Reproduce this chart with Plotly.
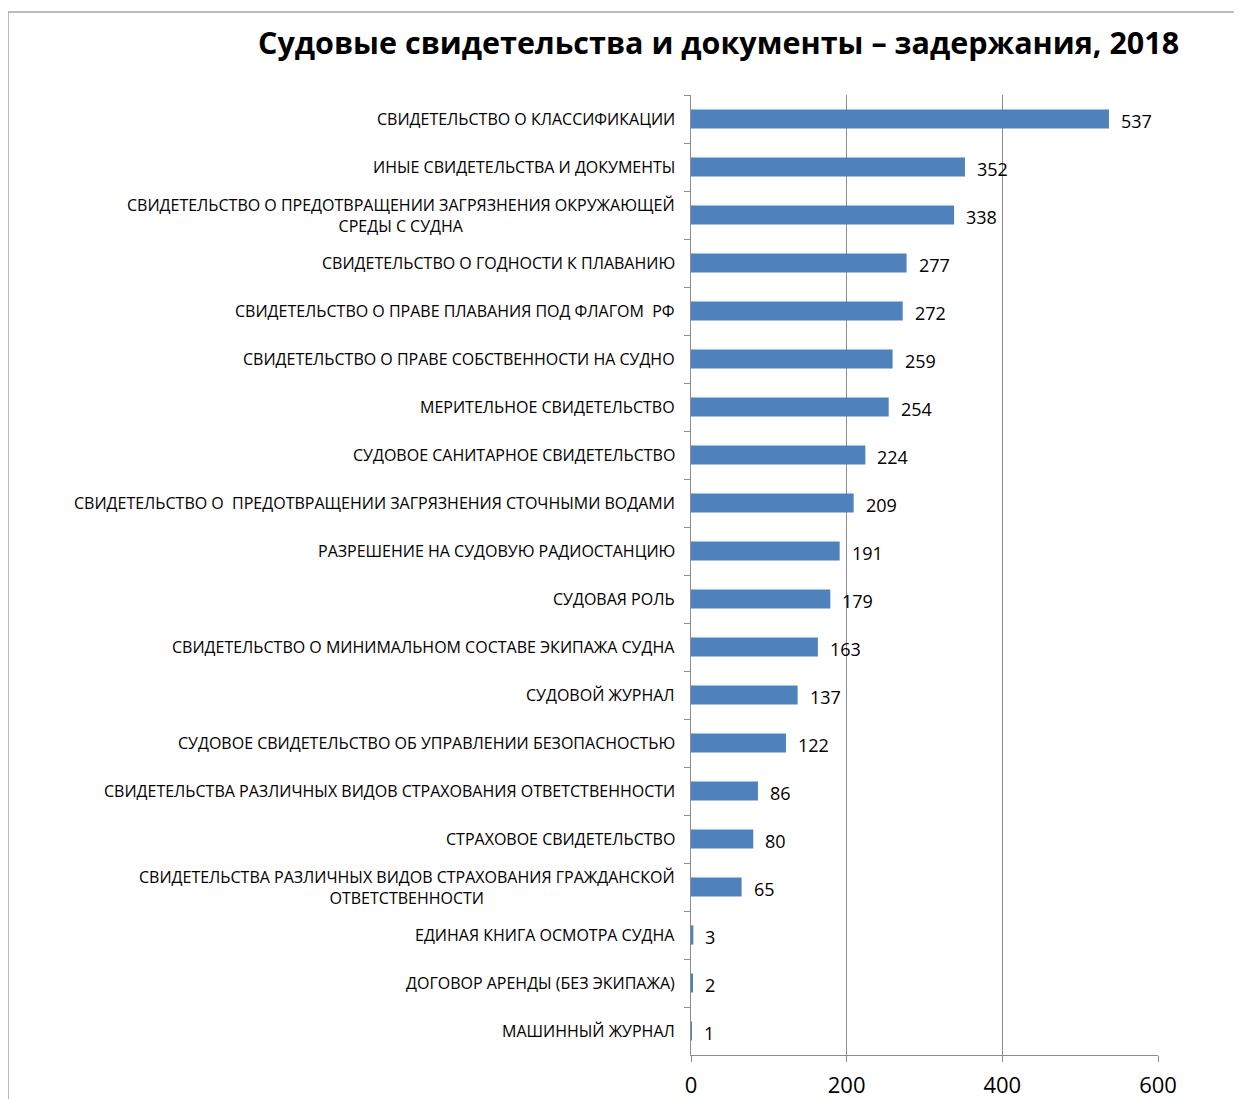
import plotly.graph_objects as go

categories = [
    "СВИДЕТЕЛЬСТВО О КЛАССИФИКАЦИИ",
    "ИНЫЕ СВИДЕТЕЛЬСТВА И ДОКУМЕНТЫ",
    "СВИДЕТЕЛЬСТВО О ПРЕДОТВРАЩЕНИИ ЗАГРЯЗНЕНИЯ ОКРУЖАЮЩЕЙ<br>СРЕДЫ С СУДНА",
    "СВИДЕТЕЛЬСТВО О ГОДНОСТИ К ПЛАВАНИЮ",
    "СВИДЕТЕЛЬСТВО О ПРАВЕ ПЛАВАНИЯ ПОД ФЛАГОМ  РФ",
    "СВИДЕТЕЛЬСТВО О ПРАВЕ СОБСТВЕННОСТИ НА СУДНО",
    "МЕРИТЕЛЬНОЕ СВИДЕТЕЛЬСТВО",
    "СУДОВОЕ САНИТАРНОЕ СВИДЕТЕЛЬСТВО",
    "СВИДЕТЕЛЬСТВО О  ПРЕДОТВРАЩЕНИИ ЗАГРЯЗНЕНИЯ СТОЧНЫМИ ВОДАМИ",
    "РАЗРЕШЕНИЕ НА СУДОВУЮ РАДИОСТАНЦИЮ",
    "СУДОВАЯ РОЛЬ",
    "СВИДЕТЕЛЬСТВО О МИНИМАЛЬНОМ СОСТАВЕ ЭКИПАЖА СУДНА",
    "СУДОВОЙ ЖУРНАЛ",
    "СУДОВОЕ СВИДЕТЕЛЬСТВО ОБ УПРАВЛЕНИИ БЕЗОПАСНОСТЬЮ",
    "СВИДЕТЕЛЬСТВА РАЗЛИЧНЫХ ВИДОВ СТРАХОВАНИЯ ОТВЕТСТВЕННОСТИ",
    "СТРАХОВОЕ СВИДЕТЕЛЬСТВО",
    "СВИДЕТЕЛЬСТВА РАЗЛИЧНЫХ ВИДОВ СТРАХОВАНИЯ ГРАЖДАНСКОЙ<br>ОТВЕТСТВЕННОСТИ",
    "ЕДИНАЯ КНИГА ОСМОТРА СУДНА",
    "ДОГОВОР АРЕНДЫ (БЕЗ ЭКИПАЖА)",
    "МАШИННЫЙ ЖУРНАЛ",
]
values = [537, 352, 338, 277, 272, 259, 254, 224, 209, 191, 179, 163, 137, 122, 86, 80, 65, 3, 2, 1]
x_ticks = [0, 200, 400, 600]
title = "Судовые свидетельства и документы – задержания, 2018"

OFF = 8  # page body margin
W, H = 1242 - OFF, 1099 - OFF
PX0, PX1, PY0, PY1 = 691 - OFF, 1158 - OFF, 95 - OFF, 1055 - OFF
L, R, T, B = PX0, W - PX1, PY0, H - PY1
pw, ph = PX1 - PX0, PY1 - PY0

FONT = "Open Sans"
GRID = "#8c8c8c"

fig = go.Figure()
fig.add_trace(go.Bar(
    x=values, y=categories, orientation="h",
    marker=dict(color="#4F81BD", line=dict(width=0)),
    width=0.4, hoverinfo="x+y",
))

annotations = []
for c, v in zip(categories, values):
    annotations.append(dict(
        x=v, y=c, xref="x", yref="y", text=str(v), showarrow=False,
        xanchor="left", yanchor="middle", xshift=10, yshift=-2,
        font=dict(family=FONT, size=18, color="#000000"),
    ))
    annotations.append(dict(
        x=0, y=c, xref="paper", yref="y", text=c, showarrow=False,
        xanchor="right", yanchor="middle", xshift=-14, align="center",
        font=dict(family=FONT, size=16, color="#000000"),
    ))

def px_x(p):
    return (p - OFF - L) / pw

def px_y(p):
    return (PY1 - (p - OFF)) / ph

shapes = [
    dict(type="line", xref="paper", yref="paper", x0=px_x(8), x1=px_x(1260),
         y0=px_y(12), y1=px_y(12), line=dict(color="#a6a6a6", width=1.5)),
    dict(type="line", xref="paper", yref="paper", x0=px_x(8), x1=px_x(8),
         y0=px_y(12), y1=px_y(1110), line=dict(color="#a6a6a6", width=1.5)),
]

annotations.append(dict(
    x=px_x(718), y=px_y(42), xref="paper", yref="paper", text="<b>" + title + "</b>",
    showarrow=False, xanchor="center", yanchor="middle",
    font=dict(family=FONT, size=30.5, color="#000000"),
))

fig.update_layout(
    width=W, height=H,
    margin=dict(l=L, r=R, t=T, b=B, autoexpand=False),
    paper_bgcolor="white", plot_bgcolor="white",
    showlegend=False,
    annotations=annotations,
    shapes=shapes,
    xaxis=dict(
        range=[0, 600], tickvals=x_ticks, ticktext=[str(t) for t in x_ticks],
        showgrid=True, gridcolor=GRID, gridwidth=1,
        showline=True, linecolor=GRID, linewidth=1,
        ticks="outside", ticklen=6, tickcolor=GRID, ticklabelstandoff=5,
        tickfont=dict(family=FONT, size=22, color="#000000"),
        zeroline=False, fixedrange=True,
    ),
    yaxis=dict(
        autorange="reversed", type="category",
        showticklabels=False, showgrid=False,
        showline=True, linecolor=GRID, linewidth=1,
        ticks="outside", ticklen=6, tickcolor=GRID, tickson="boundaries",
        zeroline=False, fixedrange=True,
    ),
)

fig.write_html("out.html")
